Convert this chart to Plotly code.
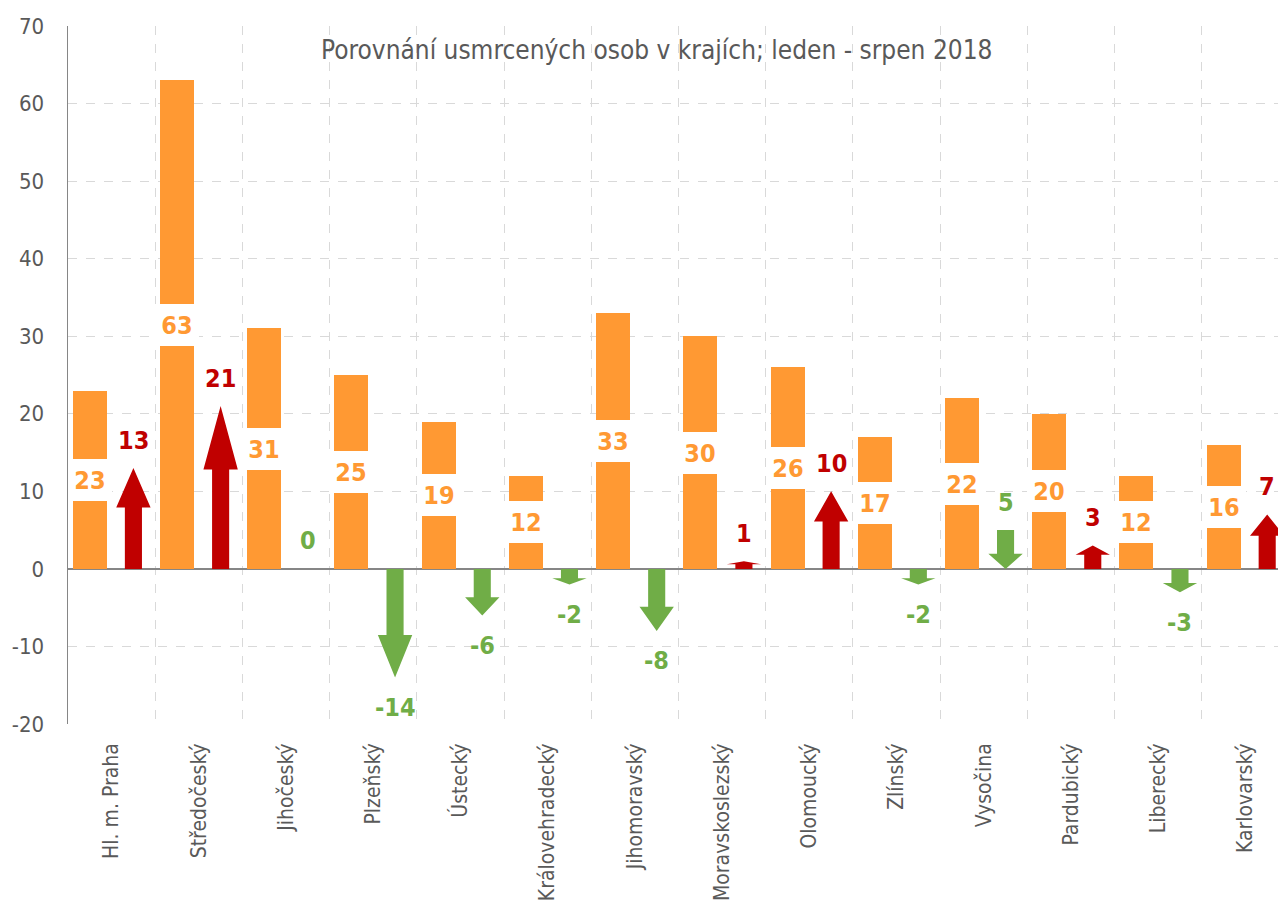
import plotly.graph_objects as go

# ---- data ----
regions = ["Hl. m. Praha", "Středočeský", "Jihočeský", "Plzeňský", "Ústecký",
           "Královehradecký", "Jihomoravský", "Moravskoslezský", "Olomoucký",
           "Zlínský", "Vysočina", "Pardubický", "Liberecký", "Karlovarský"]
killed_2018 = [23, 63, 31, 25, 19, 12, 33, 30, 26, 17, 22, 20, 12, 16]
change = [13, 21, 0, -14, -6, -2, -8, 1, 10, -2, 5, 3, -3, 7]
decrease = [False, False, True, True, True, True, True, False, False, True, True, False, True, False]
y_ticks = [-20, -10, 0, 10, 20, 30, 40, 50, 60, 70]
y_tick_labels = ["-20", "-10", "0", "10", "20", "30", "40", "50", "60", "70"]
title_text = "Porovnání usmrcených osob v krajích; leden - srpen 2018"

ORANGE = "#FF9933"
RED = "#C00000"
GREEN = "#70AD47"
GRAY = "#595959"
FONT = "DejaVu Sans Condensed, Liberation Sans Narrow, Arial Narrow, sans-serif"

BAR_OFF = -0.25
ARR_OFF = 0.25
BAR_W = 0.39
SHAFT_HW = 0.098
HEAD_HW = 0.197
HEAD_FRAC = 0.39

fig = go.Figure()
xs = list(range(len(regions)))

fig.add_trace(go.Bar(x=[i + BAR_OFF for i in xs], y=killed_2018, width=BAR_W,
                     marker=dict(color=ORANGE, line=dict(width=0)),
                     hoverinfo="skip", showlegend=False))

for i, v, down in zip(xs, change, decrease):
    if v == 0:
        continue
    if down:
        start, end = max(v, 0), min(v, 0)
        col = GREEN
    else:
        start, end = min(v, 0), v
        col = RED
    c = i + ARR_OFF
    L = end - start
    neck = end - HEAD_FRAC * L
    px = [c - SHAFT_HW, c - SHAFT_HW, c - HEAD_HW, c, c + HEAD_HW, c + SHAFT_HW, c + SHAFT_HW, c - SHAFT_HW]
    py = [start, neck, neck, end, neck, neck, start, start]
    fig.add_trace(go.Scatter(x=px, y=py, mode="lines", fill="toself", fillcolor=col,
                             line=dict(width=0, color=col), hoverinfo="skip", showlegend=False))

annotations = []
for i, v in zip(xs, killed_2018):
    annotations.append(dict(x=i + BAR_OFF, y=v / 2, text=str(v), showarrow=False,
                            font=dict(family=FONT, size=25, color=ORANGE, weight="bold"),
                            bgcolor="white", width=44, height=42, borderpad=0, borderwidth=0,
                            xanchor="center", yanchor="middle"))
for i, v, down in zip(xs, change, decrease):
    col = GREEN if down else RED
    annotations.append(dict(x=i + ARR_OFF, y=v, text=str(v), showarrow=False,
                            font=dict(family=FONT, size=25, color=col, weight="bold"),
                            xanchor="center", yanchor="middle",
                            yshift=28 if v >= 0 else -30))
annotations.append(dict(x=0.486, y=1, xref="paper", yref="paper", text=title_text, showarrow=False,
                        font=dict(family=FONT, size=26, color=GRAY),
                        xanchor="center", yanchor="middle", yshift=-24))

fig.update_layout(
    width=1278, height=907,
    margin=dict(l=68, r=0, t=26, b=183),
    paper_bgcolor="white", plot_bgcolor="white",
    annotations=annotations,
    bargap=0,
    hovermode=False,
    xaxis=dict(range=[-0.5, 13.374], tickmode="array", tickvals=xs, ticktext=regions,
               tickangle=-90, tickfont=dict(family=FONT, size=21, color=GRAY),
               ticks="", showgrid=False, zeroline=False, showline=False,
               ticklabelstandoff=14, automargin=False,
               minor=dict(tickmode="array", tickvals=[i - 0.5 for i in range(len(regions) + 1)],
                          showgrid=True, gridcolor="#D9D9D9", griddash="dash", gridwidth=1, ticks="")),
    yaxis=dict(range=[-20, 70], tickmode="array", tickvals=y_ticks, ticktext=y_tick_labels,
               tickfont=dict(family=FONT, size=22, color=GRAY), ticks="",
               showgrid=True, gridcolor="#D9D9D9", griddash="dash", gridwidth=1,
               zeroline=True, zerolinecolor="#868686", zerolinewidth=1.5,
               showline=True, linecolor="#868686", linewidth=1.5,
               ticklabelstandoff=18, automargin=False),
)

fig.write_html("out.html", config={"displayModeBar": False, "staticPlot": True},
               post_script="document.body.style.margin='0';document.body.style.overflow='hidden';")
